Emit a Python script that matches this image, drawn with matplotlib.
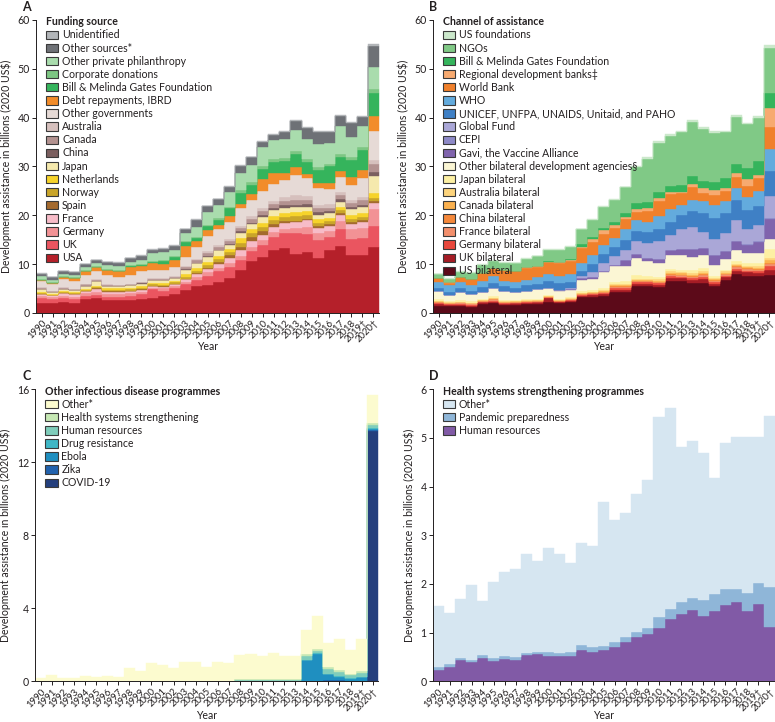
import numpy as np
import matplotlib
matplotlib.use('Agg')
import matplotlib.pyplot as plt
from matplotlib.patches import Patch

plt.rcParams['font.family'] = ['Lato', 'DejaVu Sans']

years = [str(y) for y in range(1990, 2019)] + ['2019†', '2020†']

# ---------------- Panel A: Funding source ----------------
a_labels = ['USA', 'UK', 'Germany', 'France', 'Spain', 'Norway', 'Netherlands', 'Japan',
            'China', 'Canada', 'Australia', 'Other governments', 'Debt repayments, IBRD',
            'Bill & Melinda Gates Foundation', 'Corporate donations',
            'Other private philanthropy', 'Other sources*', 'Unidentified']
a_colors = ['#b5202a', '#ea5560', '#f29295', '#f7bcc8', '#a46a2e', '#c9a52a', '#f6d32a',
            '#f5e9ad', '#7b5f5f', '#b39290', '#d6c0bd', '#e6dad6', '#f28c2a', '#35b45c',
            '#7dc683', '#a9dcad', '#6e7176', '#b2b5b8']
a_usa = [2.1, 2.1, 2.3, 2.1, 2.9, 3.0, 2.6, 2.7, 2.6, 2.9, 3.1, 3.5, 3.9, 4.7, 5.5, 5.8, 6.4, 7.1,
         8.8, 10.6, 11.4, 13.0, 13.3, 12.1, 12.4, 11.2, 12.8, 13.8, 11.9, 11.9, 13.5]
a_uk = [0.9, 0.7, 0.7, 0.7, 0.6, 0.7, 0.6, 0.6, 0.8, 0.9, 1.8, 1.0, 1.3, 1.2, 1.3, 1.7, 2.1, 2.4,
        2.1, 2.0, 2.6, 2.6, 3.1, 4.3, 3.8, 3.8, 2.7, 3.3, 3.3, 3.5, 4.4]
a_germany = [0.5, 0.4, 0.5, 0.5, 0.5, 0.7, 0.6, 0.6, 0.6, 0.6, 0.3, 0.6, 0.4, 0.5, 0.5, 0.8, 0.7,
             0.7, 0.7, 0.9, 1.0, 0.9, 0.9, 1.0, 1.5, 1.3, 1.3, 1.7, 2.1, 2.1, 3.4]
a_france = [0.3, 0.4, 0.5, 0.5, 0.5, 0.6, 0.6, 0.5, 0.5, 0.4, 0.3, 0.3, 0.3, 0.5, 0.7, 0.7, 0.9,
            1.0, 1.2, 1.2, 1.0, 1.2, 1.1, 1.2, 1.3, 1.2, 1.1, 1.3, 0.9, 1.2, 1.2]
a_spain = [.05, .05, .05, .05, .05, .05, .1, .1, .1, .1, .1, .1, .1, .15, .2, .3, .4, .6, .8, .8,
           .7, .5, .4, .3, .3, .3, .3, .3, .4, .3, .4]
a_norway = [.15, .1, .15, .15, .15, .2, .25, .25, .25, .25, .25, .25, .3, .4, .45, .5, .55, .6,
            .8, .8, .9, .9, .9, .9, .8, .7, .7, .7, .7, .7, .7]
a_netherlands = [.25, .2, .25, .2, .25, .3, .3, .3, .3, .35, .35, .35, .35, .5, .55, .65, .7, .7,
                 .9, .9, .9, .8, .8, .8, .7, .7, .6, .6, .7, .7, .9]
a_japan = [.6, .4, .5, .5, .6, .9, .5, .45, .5, .5, .6, .6, .5, .9, 1.0, 1.1, 1.1, .9, 1.1, 1.0,
           1.1, 1.1, 1.1, 1.1, 1.0, .9, .9, 1.1, 1.2, 1.3, 3.6]
a_china = [.05, .05, .05, .05, .05, .05, .05, .05, .05, .05, .05, .05, .05, .1, .1, .15, .15, .2,
           .3, .3, .4, .4, .5, .5, .5, .5, .4, .5, .5, .5, .8]
a_canada = [.25, .1, .2, .15, .25, .25, .2, .15, .2, .2, .2, .2, .25, .4, .45, .55, .6, .6, .7,
            .7, .9, .9, .9, 1.0, .9, .8, .8, .8, .8, .9, 1.6]
a_australia = [.15, .1, .1, .1, .15, .15, .1, .1, .1, .15, .15, .15, .15, .25, .25, .35, .4, .4,
               .5, .6, .7, .7, .8, .9, .7, .7, .7, .6, .6, .6, .8]
a_other_gov = [1.3, 1.4, 1.7, 1.6, 1.7, 1.6, 1.8, 1.6, 1.7, 2.2, 1.7, 1.7, 1.9, 1.9, 2.6, 3.1,
               3.2, 3.5, 3.6, 3.3, 3.4, 3.5, 3.4, 4.1, 3.7, 3.4, 3.1, 3.2, 3.2, 3.9, 5.9]
a_debt = [0.2, 0.1, 0.3, 0.5, 0.9, 0.9, 1.2, 1.2, 1.8, 1.0, 1.3, 1.3, 1.4, 2.2, 1.1, 1.2, 0.8,
          1.2, 0.8, 1.2, 2.4, 2.1, 1.5, 1.7, 0.8, 1.2, 1.3, 1.2, 1.5, 1.6, 3.2]
a_bmgf = [0, 0, 0, 0, 0, 0, 0, 0, 0.05, 0.2, 0.3, 0.5, 0.5, 0.8, 0.6, 0.9, 1.1, 1.5, 2.2, 1.9,
          2.0, 2.4, 2.5, 2.7, 2.6, 2.6, 3.3, 2.9, 3.6, 4.2, 4.6]
a_corporate = [0.2] * 13 + [0.3] * 5 + [0.6] * 12 + [0.8]
a_other_private = [0.5, 0.4, 0.5, 0.5, 0.7, 0.6, 0.7, 0.8, 0.75, 0.9, 1.5, 1.6, 1.4, 1.5, 2.1,
                   2.5, 2.7, 3.0, 3.6, 3.6, 3.9, 3.8, 3.9, 4.2, 4.0, 4.7, 4.2, 5.6, 4.1, 4.2, 4.5]
a_other_sources = [0.5, 0.6, 0.5, 0.5, 0.5, 0.6, 0.6, 0.7, 0.7, 0.8, 0.8, 0.8, 0.8, 0.9, 1.4,
                   1.3, 1.2, 1.2, 1.5, 1.5, 1.2, 1.0, 1.4, 2.0, 2.2, 2.4, 2.3, 2.2, 2.8, 2.0, 4.4]
a_unidentified = [0.1] * 20 + [0.2] * 10 + [0.3]
a_series = [a_usa, a_uk, a_germany, a_france, a_spain, a_norway, a_netherlands, a_japan,
            a_china, a_canada, a_australia, a_other_gov, a_debt, a_bmgf, a_corporate,
            a_other_private, a_other_sources, a_unidentified]

# ---------------- Panel B: Channel of assistance ----------------
b_labels = ['US bilateral', 'UK bilateral', 'Germany bilateral', 'France bilateral',
            'China bilateral', 'Canada bilateral', 'Australia bilateral', 'Japan bilateral',
            'Other bilateral development agencies§', 'Gavi, the Vaccine Alliance', 'CEPI',
            'Global Fund', 'UNICEF, UNFPA, UNAIDS, Unitaid, and PAHO', 'WHO', 'World Bank',
            'Regional development banks‡', 'Bill & Melinda Gates Foundation', 'NGOs',
            'US foundations']
b_colors = ['#5c0a19', '#a51c25', '#e9483d', '#f38f6c', '#f5883a', '#fbb14f', '#fdd47c',
            '#fdf0a3', '#fbf6d4', '#8064ad', '#8d89c7', '#aaa7d7', '#3f80c5', '#63abdd',
            '#f0802b', '#f7aa70', '#35b45c', '#80c986', '#cbe8cb']
b_us = [1.5, 1.4, 1.4, 1.2, 1.9, 2.0, 1.6, 1.7, 1.8, 1.9, 2.3, 2.0, 2.2, 3.2, 3.2, 3.5, 4.3, 4.3,
        5.5, 5.5, 5.3, 6.6, 6.5, 6.1, 6.1, 5.5, 6.8, 8.0, 7.6, 7.5, 7.8]
b_uk = [.3, .25, .3, .3, .25, .3, .25, .25, .25, .25, .8, .3, .35, .35, .4, .4, .5, .5, .5, .5,
        .5, .6, .6, .7, .8, .5, .5, .7, .7, .7, 1.0]
b_germany = [.2, .2, .2, .2, .15, .25, .15, .15, .15, .15, .1, .1, .1, .15, .2, .2, .25, .25,
             .25, .25, .25, .3, .3, .3, .4, .3, .3, .4, .4, .4, .8]
b_france = [.3, .2, .25, .25, .2, .3, .2, .2, .2, .2, .1, .1, .15, .2, .25, .25, .3, .3, .3, .25,
            .25, .3, .3, .3, .4, .3, .3, .3, .3, .3, .4]
b_china = [.02] * 13 + [.05, .05, .05, .1, .1, .1, .1, .1, .15, .15, .15, .2, .15, .15, .15,
                        .15, .15, .3]
b_canada = [.1, .05, .1, .1, .08, .1, .08, .08, .08, .08, .06, .06, .08, .1, .15, .15, .2, .2,
            .2, .2, .25, .25, .25, .3, .3, .2, .2, .25, .25, .25, .5]
b_australia = [.08, .06, .07, .07, .07, .1, .07, .07, .07, .07, .07, .07, .07, .1, .15, .15, .2,
               .2, .2, .2, .25, .3, .3, .35, .4, .25, .25, .3, .3, .3, .4]
b_japan = [.3, .22, .26, .26, .23, .43, .23, .23, .23, .23, .15, .15, .23, .35, .4, .5, .55, .65,
           .65, .5, .5, .5, .5, .6, .7, .3, .4, .6, .6, .6, 2.0]
b_other_bilateral = [1.7, 1.2, 1.8, 1.5, 1.5, 1.7, 1.9, 1.5, 1.7, 2.0, 1.5, 1.8, 1.6, 2.3, 2.2,
                     3.2, 3.3, 3.2, 3.5, 3.1, 2.9, 2.8, 2.9, 2.7, 2.6, 2.3, 2.2, 2.1, 2.0, 2.0, 2.0]
b_gavi = [0] * 11 + [0.2, 0.2, 0.4, 0.3, 0.3, 0.2, 1.2, 0.9, 0.6, 0.8, 1.0, 1.3, 1.7, 1.5, 2.0,
                     1.6, 1.9, 1.7, 2.3, 4.0]
b_cepi = [0] * 27 + [0.1, 0.2, 0.2, 0.3]
b_global_fund = [0] * 12 + [0.1, 0.3, 1.0, 1.5, 1.7, 2.0, 2.7, 3.2, 3.6, 3.2, 4.1, 4.5, 3.1, 3.3,
                            3.6, 4.3, 3.0, 3.3, 4.4]
b_unicef = [0.7, 0.7, 0.8, 0.6, 1.0, 0.9, 1.0, 1.0, 1.2, 1.1, 1.4, 1.4, 1.2, 1.1, 1.7, 1.9, 2.0,
            2.1, 2.0, 2.1, 2.5, 2.7, 2.8, 3.1, 4.0, 4.3, 4.1, 4.0, 3.9, 4.0, 5.2]
b_who = [1.2, 1.4, 1.2, 1.3, 1.2, 1.5, 1.1, 1.2, 1.1, 1.3, 1.5, 1.4, 1.6, 1.6, 1.9, 1.8, 1.8,
         2.1, 2.2, 2.2, 2.7, 2.5, 2.1, 2.3, 2.4, 2.8, 2.5, 2.5, 2.6, 2.9, 4.4]
b_world_bank = [0.8, 0.5, 0.9, 1.2, 1.6, 1.5, 2.2, 2.1, 2.5, 2.2, 2.4, 2.6, 2.7, 3.1, 2.6, 2.3,
                2.1, 2.1, 1.7, 2.2, 3.1, 3.1, 2.4, 2.6, 1.6, 2.0, 2.0, 2.3, 2.3, 2.8, 4.6]
b_regional_banks = [0.05] * 10 + [0.1, 0.2, 0.2, 0.3, 0.6, 0.8, 0.6, 0.4, 0.5, 0.6, 0.6, 0.4,
                                  0.3, 0.8, 1.0, 1.0, 0.6, 0.7, 1.4, 0.6, 3.8]
b_bmgf = [0] * 10 + [0.1, 0.1, 0.3, 0.5, 0.4, 0.4, 0.5, 0.8, 1.4, 1.3, 1.2, 1.3, 1.4, 1.5, 1.6,
                     1.7, 2.1, 1.9, 2.2, 2.8, 3.1]
b_ngos = [0.65, 0.75, 1.05, 1.15, 1.65, 1.55, 1.45, 1.65, 1.75, 2.05, 2.4, 2.5, 2.5, 3.1, 3.6,
          4.4, 4.6, 5.4, 7.3, 8.8, 10.1, 10.3, 10.8, 11.2, 10.6, 10.0, 9.4, 9.7, 9.1, 8.9, 9.2]
b_us_foundations = [0.1] * 18 + [0.3] * 12 + [0.7]
b_series = [b_us, b_uk, b_germany, b_france, b_china, b_canada, b_australia, b_japan,
            b_other_bilateral, b_gavi, b_cepi, b_global_fund, b_unicef, b_who, b_world_bank,
            b_regional_banks, b_bmgf, b_ngos, b_us_foundations]

# ---------------- Panel C: Other infectious disease programmes ----------------
c_labels = ['COVID-19', 'Zika', 'Ebola', 'Drug resistance', 'Human resources',
            'Health systems strengthening', 'Other*']
c_colors = ['#243f7d', '#2262ad', '#1f8fc0', '#3fb7c6', '#7fcdbb', '#c6e8b4', '#fcfbcf']
c_covid = [0] * 30 + [13.7]
c_zika = [0] * 26 + [0.08, 0.06, 0.04, 0.03, 0.05]
c_ebola = [0] * 24 + [1.15, 1.5, 0.3, 0.18, 0.1, 0.2, 0.1]
c_drug_resistance = [0.01] * 18 + [0.02] * 6 + [0.03] * 6 + [0.05]
c_human_resources = [0.02] * 18 + [0.05] * 6 + [0.2, 0.15, 0.25, 0.25, 0.15, 0.2, 0.15]
c_hss = [0.01] * 18 + [0.03] * 6 + [0.1, 0.1, 0.1, 0.12, 0.1, 0.1, 0.1]
c_other = [0.14, 0.31, 0.14, 0.14, 0.25, 0.21, 0.25, 0.20, 0.67, 0.52, 0.96, 0.83, 0.67, 1.01,
           1.01, 0.74, 1.01, 0.94, 1.33, 1.39, 1.30, 1.46, 1.30, 1.28, 1.33, 1.80, 1.33, 1.66,
           1.27, 1.73, 1.55]
c_series = [c_covid, c_zika, c_ebola, c_drug_resistance, c_human_resources, c_hss, c_other]

# ---------------- Panel D: Health systems strengthening programmes ----------------
d_labels = ['Human resources', 'Pandemic preparedness', 'Other*']
d_colors = ['#815aa6', '#8fb6d8', '#d6e6f1']
d_human_resources = [0.23, 0.29, 0.43, 0.39, 0.48, 0.41, 0.46, 0.44, 0.55, 0.56, 0.52, 0.51,
                     0.52, 0.65, 0.61, 0.65, 0.71, 0.81, 0.90, 0.97, 1.10, 1.27, 1.38, 1.46,
                     1.34, 1.44, 1.56, 1.62, 1.44, 1.58, 1.11]
d_pandemic = [0.07, 0.06, 0.05, 0.05, 0.06, 0.07, 0.05, 0.05, 0.04, 0.05, 0.09, 0.08, 0.09,
              0.10, 0.09, 0.08, 0.09, 0.09, 0.11, 0.12, 0.23, 0.21, 0.24, 0.25, 0.33, 0.35,
              0.34, 0.27, 0.38, 0.43, 0.82]
d_other = [1.25, 1.06, 1.22, 1.53, 1.11, 1.55, 1.73, 1.82, 2.03, 1.87, 2.13, 2.02, 1.83, 2.09,
           2.08, 2.96, 2.52, 2.56, 2.83, 3.04, 4.11, 4.13, 3.20, 3.23, 3.03, 2.39, 3.00, 3.12,
           3.19, 3.00, 3.52]
d_series = [d_human_resources, d_pandemic, d_other]

TXT = '#231f20'
FS = 7.3


def panel(ax, series, colors, labels, title, ymax, ystep, letter, letter_x):
    n = len(years)
    xe = np.arange(n + 1) - 0.5
    bottom = np.zeros(n)
    for vals, col in zip(series, colors):
        v = np.asarray(vals, dtype=float)
        top = bottom + v
        ax.fill_between(xe, np.append(bottom, bottom[-1]), np.append(top, top[-1]),
                        step='post', facecolor=col, edgecolor=col, linewidth=0.3)
        bottom = top
    ax.set_xlim(-0.5, n - 0.5)
    ax.set_ylim(0, ymax)
    ax.set_yticks(np.arange(0, ymax + ystep / 2, ystep))
    ax.set_xticks(np.arange(n))
    ax.set_xticklabels(years, rotation=45, ha='right', rotation_mode='anchor', fontsize=FS - 0.4,
                       color=TXT)
    for lab in ax.get_yticklabels():
        lab.set_fontsize(FS + 0.3)
        lab.set_color(TXT)
    ax.tick_params(axis='both', length=3, width=0.7, color=TXT, pad=1.5)
    ax.tick_params(axis='x', pad=1)
    for s in ['top', 'right']:
        ax.spines[s].set_visible(False)
    for s in ['left', 'bottom']:
        ax.spines[s].set_linewidth(0.7)
        ax.spines[s].set_color(TXT)
    ax.set_xlabel('Year', fontsize=FS + 0.3, color=TXT, va='center')
    ax.xaxis.set_label_coords(0.5, -34 / (ax.get_position().height * 722))
    ax.set_ylabel('Development assistance in billions (2020 US$)', fontsize=FS + 0.3,
                  color=TXT, labelpad=4)
    handles = [Patch(facecolor=c, edgecolor='#3a3a3a', linewidth=0.8, label=l)
               for c, l in zip(colors, labels)][::-1]
    leg = ax.legend(handles=handles, loc='upper left', bbox_to_anchor=(0.025, 1.016),
                    frameon=False, fontsize=FS + 0.3, title=title,
                    title_fontproperties={'weight': 'bold', 'size': FS + 0.3},
                    handlelength=1.2, handleheight=0.85, handletextpad=0.35,
                    labelspacing=0.2, borderaxespad=0, borderpad=0.1)
    leg._legend_box.align = 'left'
    for t in leg.get_texts():
        t.set_color(TXT)
    leg.get_title().set_color(TXT)
    ax.text(letter_x, 1.066, letter, transform=ax.transAxes, fontsize=9, fontweight='bold',
            color=TXT, ha='left', va='top')


fig = plt.figure(figsize=(7.75, 7.22), dpi=100)
axA = fig.add_axes([0.0465, 0.5665, 0.4425, 0.4058])
axB = fig.add_axes([0.5587, 0.5665, 0.4410, 0.4058])
axC = fig.add_axes([0.0455, 0.0564, 0.4425, 0.4044])
axD = fig.add_axes([0.5587, 0.0564, 0.4410, 0.4044])

panel(axA, a_series, a_colors, a_labels, 'Funding source', 60, 10, 'A', -0.04)
panel(axB, b_series, b_colors, b_labels, 'Channel of assistance', 60, 10, 'B', -0.012)
panel(axC, c_series, c_colors, c_labels, 'Other infectious disease programmes', 16, 4, 'C', -0.037)
panel(axD, d_series, d_colors, d_labels, 'Health systems strengthening programmes', 6, 1, 'D', -0.012)

fig.savefig('out.png', dpi=100)
